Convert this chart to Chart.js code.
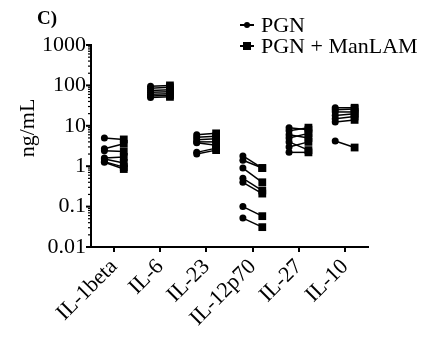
<!DOCTYPE html>
<html>
<head>
<meta charset="utf-8">
<script src="https://cdn.jsdelivr.net/npm/chart.js@4"></script>
<style>
  body { margin: 0; background: #fff; font-family: "Liberation Serif", "Times New Roman", serif; }
  #wrap { position: relative; width: 437px; height: 361px; }
  #panel { position: absolute; left: 37px; top: 7px; font-weight: bold; font-size: 19px; }
  #ylab { position: absolute; left: 27px; top: 128px; font-size: 22px; white-space: nowrap;
          transform: translate(-50%, -50%) rotate(-90deg); }
  .leg { position: absolute; left: 240px; font-size: 22px; line-height: 22px; white-space: nowrap; }
  .sym { display: inline-block; position: relative; width: 14px; height: 22px; vertical-align: top; margin-right: 7px; }
  .sym:before { content: ''; position: absolute; left: 0; right: 0; top: 10px; height: 2px; background: #000; }
  .sym i { position: absolute; left: 3px; top: 7px; width: 8px; height: 8px; background: #000; }
  .dot i { border-radius: 50%; left: 4px; top: 8px; width: 6px; height: 6px; }
</style>
</head>
<body>
<div id="wrap">
  <canvas id="myChart"></canvas>
  <div id="panel">C)</div>
  <div id="ylab">ng/mL</div>
  <div class="leg" style="top:14px"><span class="sym dot"><i></i></span>PGN</div>
  <div class="leg" style="top:35px"><span class="sym"><i></i></span>PGN + ManLAM</div>
</div>
<script>
// Zytokine, je 7 Spender (Werte aus der Abbildung geschätzt)
var categories = ['IL-1beta', 'IL-6', 'IL-23', 'IL-12p70', 'IL-27', 'IL-10'];
var pgn = [
  [5.0, 2.7, 2.4, 1.6, 1.5, 1.3, 1.25],
  [95, 85, 75, 68, 60, 55, 50],
  [6.0, 5.2, 4.5, 4.0, 3.8, 2.2, 2.0],
  [1.8, 1.4, 0.9, 0.5, 0.4, 0.1, 0.052],
  [9.0, 7.5, 6.0, 5.0, 4.0, 3.0, 2.2],
  [28, 25, 22, 18, 15, 12.5, 4.2]
];
var pgnManlam = [
  [4.6, 3.6, 2.3, 1.7, 1.2, 0.95, 0.85],
  [100, 90, 78, 70, 62, 57, 52],
  [6.5, 5.5, 4.8, 4.0, 3.3, 2.8, 2.5],
  [0.9, 0.9, 0.4, 0.25, 0.21, 0.058, 0.031],
  [8.0, 9.0, 5.0, 6.5, 2.5, 4.0, 2.2],
  [28, 26, 22, 20, 17, 14, 2.9]
];
var yTicks = [0.01, 0.1, 1, 10, 100, 1000];

var shift = 0.21; // Abstand Kreis/Quadrat zur Kategorie

var datasets = [];
for (var i = 0; i < categories.length; i++) {
  for (var j = 0; j < pgn[i].length; j++) {
    datasets.push({
      data: [{x: i - shift, y: pgn[i][j]}, {x: i + shift, y: pgnManlam[i][j]}],
      borderColor: '#000',
      backgroundColor: '#000',
      borderWidth: 1.5,
      pointStyle: ['circle', 'rect'],
      pointRadius: [3.5, 5.5],
      pointBorderWidth: 0,
      fill: false
    });
  }
}

// kleine Striche an der log-Achse
var logTicks = {
  id: 'logTicks',
  afterDraw: function(chart) {
    var ctx = chart.ctx, sy = chart.scales.y, left = chart.chartArea.left;
    ctx.save();
    ctx.strokeStyle = '#000';
    for (var e = -2; e <= 3; e++) {
      for (var m = 1; m <= 9; m++) {
        var v = m * Math.pow(10, e);
        if (v > 1000) break;
        var py = sy.getPixelForValue(v);
        ctx.lineWidth = m === 1 ? 2 : 1.2;
        ctx.beginPath();
        ctx.moveTo(left - (m === 1 ? 5 : 3), py);
        ctx.lineTo(left, py);
        ctx.stroke();
      }
    }
    ctx.restore();
  }
};

var font = {family: '"Liberation Serif", "Times New Roman", serif', size: 22};

var ctx = document.getElementById('myChart').getContext('2d');
var chart = new Chart(ctx, {
  type: 'line',
  data: {datasets: datasets},
  plugins: [logTicks],
  options: {
    responsive: true,
    maintainAspectRatio: false,
    animation: false,
    events: [],
    layout: {padding: {left: 0, right: 69, top: 45, bottom: 0}},
    plugins: {legend: {display: false}, tooltip: {enabled: false}},
    scales: {
      x: {
        type: 'linear',
        min: -0.5,
        max: 5.5,
        afterBuildTicks: function(scale) {
          scale.ticks = categories.map(function(c, k) { return {value: k}; });
        },
        afterFit: function(scale) { scale.height = 114; },
        border: {display: true, color: '#000', width: 2},
        grid: {display: true, drawOnChartArea: false, drawTicks: true, tickLength: 5, color: '#000', lineWidth: 2},
        ticks: {
          color: '#000',
          font: font,
          padding: 2,
          minRotation: 45,
          maxRotation: 45,
          autoSkip: false,
          callback: function(value) { return categories[value]; }
        }
      },
      y: {
        type: 'logarithmic',
        min: 0.01,
        max: 1000,
        afterBuildTicks: function(scale) {
          scale.ticks = yTicks.map(function(v) { return {value: v}; });
        },
        afterFit: function(scale) { scale.width = 91; },
        border: {display: true, color: '#000', width: 2},
        grid: {display: false, drawTicks: false},
        ticks: {
          color: '#000',
          font: font,
          padding: 5,
          autoSkip: false,
          callback: function(value) { return String(value); }
        }
      }
    }
  }
});
</script>
</body>
</html>
